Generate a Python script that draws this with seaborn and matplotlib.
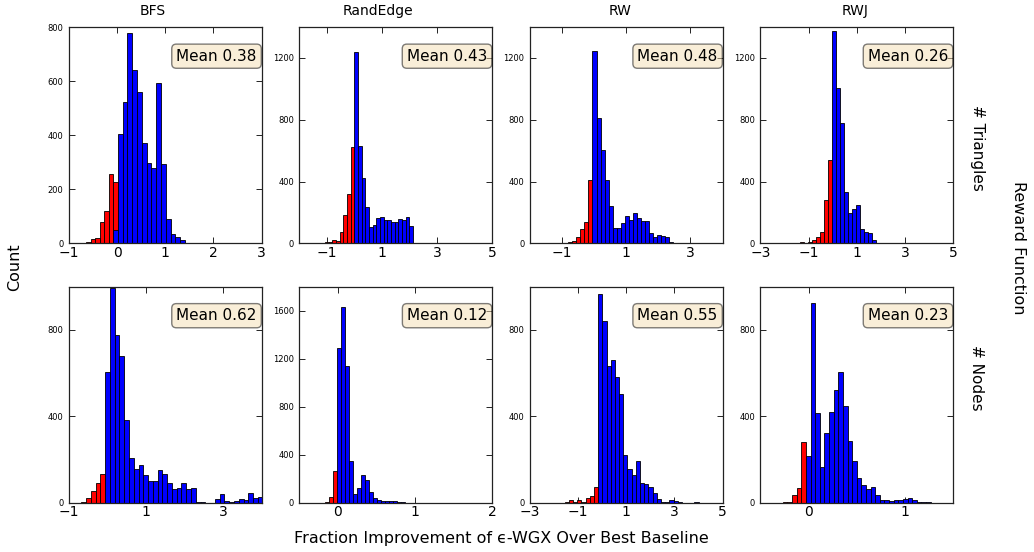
import numpy as np
import matplotlib
matplotlib.use("Agg")
import matplotlib.pyplot as plt
import seaborn as sns

# panel layout: rows = reward function, cols = method
methods = ["BFS", "RandEdge", "RW", "RWJ"]
rewards = ["# Triangles", "# Nodes"]
means = [[0.38, 0.43, 0.48, 0.26],
         [0.62, 0.12, 0.55, 0.23]]

# histogram bins: (first edge, bin width, counts)
# negative improvement (red)
red_start = [[-0.74, -1.073, -1.439, -2.20],
             [-0.928, -0.373, -2.603, -0.316]]
red_width = [[0.094, 0.133, 0.126, 0.167],
             [0.1239, 0.052, 0.174, 0.048]]
red_counts = [
    [[3, 4, 17, 19, 80, 120, 255, 229],
     [12, 8, 25, 15, 72, 184, 322, 625],
     [2, 1, 3, 3, 5, 10, 15, 41, 95, 140, 410],
     [2, 3, 3, 4, 5, 8, 5, 10, 25, 40, 75, 280, 540]],
    [[2, 2, 3, 25, 57, 94, 135],
     [2, 1, 2, 3, 12, 50, 270],
     [2, 0, 1, 1, 1, 2, 3, 15, 3, 12, 5, 22, 34, 76],
     [1, 3, 5, 36, 70, 280]],
]
# positive improvement (blue)
blue_start = [[-0.084, 0.0, -0.053, -0.03],
              [-0.061, -0.009, -0.167, -0.028]]
blue_width = [[0.0995, 0.133, 0.126, 0.167],
              [0.1239, 0.052, 0.174, 0.048]]
blue_counts = [
    [[50, 406, 522, 778, 641, 561, 370, 296, 280, 594, 292, 90, 35, 25, 12, 3],
     [1241, 629, 426, 238, 106, 117, 162, 169, 151, 149, 136, 136, 160, 154, 171, 112,
      2, 1, 1, 1, 1, 1, 1, 0, 1, 1, 0, 1, 1, 0, 1],
     [1248, 813, 605, 409, 240, 99, 99, 134, 175, 149, 197, 164, 145, 145, 69, 41, 52, 48, 45, 11, 4,
      2, 1, 1, 1, 0, 1, 1, 1],
     [1373, 1005, 780, 335, 195, 220, 249, 91, 76, 65, 22]],
    [[605, 991, 776, 681, 385, 206, 159, 175, 130, 101, 102, 152, 132, 94, 65, 70, 94, 65, 70,
      3, 5, 2, 2, 20, 40, 8, 3, 8, 18, 12, 45, 22, 28],
     [1290, 1630, 1136, 345, 75, 125, 231, 195, 89, 42, 28, 18, 18, 20, 15, 8, 5, 4, 3,
      2, 2, 1, 1, 1, 1, 1, 1, 0, 1, 1, 0, 1],
     [966, 839, 635, 661, 580, 505, 224, 159, 130, 195, 94, 90, 76, 46, 20,
      5, 3, 15, 10, 3, 2, 1, 1, 5, 2, 1],
     [215, 926, 415, 166, 325, 420, 520, 605, 450, 285, 195, 115, 85, 65, 74, 36,
      15, 12, 8, 15, 12, 18, 25, 12, 3, 6, 3, 1, 1]],
]

xlims = [[(-1, 3), (-2, 5), (-2, 4), (-3, 5)],
         [(-1, 4), (-0.5, 2), (-3, 5), (-0.5, 1.5)]]
xticks = [[[-1, 0, 1, 2, 3], [-1, 1, 3, 5], [-1, 1, 3], [-3, -1, 1, 3, 5]],
          [[-1, 1, 3], [0, 1, 2], [-3, -1, 1, 3, 5], [0, 1]]]
ymax = [[800, 1400, 1400, 1400], [1000, 1800, 1000, 1000]]
yticks = [[[0, 200, 400, 600, 800], [0, 400, 800, 1200], [0, 400, 800, 1200], [0, 400, 800, 1200]],
          [[0, 400, 800], [0, 400, 800, 1200, 1600], [0, 400, 800], [0, 400, 800]]]

sns.set_style("ticks", {"xtick.direction": "in", "ytick.direction": "in",
                        "text.color": "black", "axes.labelcolor": "black",
                        "xtick.color": "black", "ytick.color": "black",
                        "axes.edgecolor": "black"})
plt.rcParams["font.family"] = ["DejaVu Sans"]

fig, axes = plt.subplots(2, 4, figsize=(10.34, 5.52), dpi=100)
fig.subplots_adjust(left=0.0667, right=0.9217, top=0.951, bottom=0.0888,
                    wspace=0.197, hspace=0.199)


def draw_hist(ax, start, width, counts, color):
    n = len(counts)
    centers = start + width * (np.arange(n) + 0.5)
    sns.histplot(x=centers, weights=np.array(counts, dtype=float), bins=n,
                 binrange=(start, start + width * n), color=color, alpha=1,
                 edgecolor="black", linewidth=0.6, ax=ax)


for r in range(2):
    for c in range(4):
        ax = axes[r, c]
        draw_hist(ax, red_start[r][c], red_width[r][c], red_counts[r][c], "red")
        draw_hist(ax, blue_start[r][c], blue_width[r][c], blue_counts[r][c], "blue")
        ax.set_xlim(*xlims[r][c])
        ax.set_ylim(0, ymax[r][c])
        ax.set_xticks(xticks[r][c])
        ax.set_yticks(yticks[r][c])
        ax.set_xticklabels([f"{t:g}".replace("-", "\u2212") for t in xticks[r][c]])
        ax.set_xlabel("")
        ax.set_ylabel("")
        ax.tick_params(axis="x", labelsize=10, pad=1.5, length=4, width=0.6, top=True)
        ax.tick_params(axis="y", labelsize=6, pad=4, length=4, width=0.6, right=True)
        for sp in ax.spines.values():
            sp.set_color("#222222")
            sp.set_linewidth(0.9)
        ax.text(0.975, 0.90, f"Mean {means[r][c]:.2f}", transform=ax.transAxes,
                ha="right", va="top", fontsize=11,
                bbox=dict(boxstyle="round", facecolor="wheat", edgecolor="black", alpha=0.5))

# column titles
title_x = [153, 378, 620, 855]
for name, x in zip(methods, title_x):
    fig.text(x / 1034, 1 - 11 / 552, name, ha="center", va="center", fontsize=10)

# row labels
fig.text(977 / 1034, 1 - 148 / 552, rewards[0], rotation=-90, ha="center", va="center", fontsize=11)
fig.text(977 / 1034, 1 - 378 / 552, rewards[1], rotation=-90, ha="center", va="center", fontsize=11)
fig.text(1018 / 1034, 1 - 248 / 552, "Reward Function", rotation=-90, ha="center", va="center", fontsize=11.5)
fig.text(15 / 1034, 1 - 267 / 552, "Count", rotation=90, ha="center", va="center", fontsize=11.5)
fig.text(501 / 1034, 1 - 539 / 552, "Fraction Improvement of \u03f5-WGX Over Best Baseline",
         ha="center", va="center", fontsize=11.5)

fig.savefig("out.png", dpi=100)
